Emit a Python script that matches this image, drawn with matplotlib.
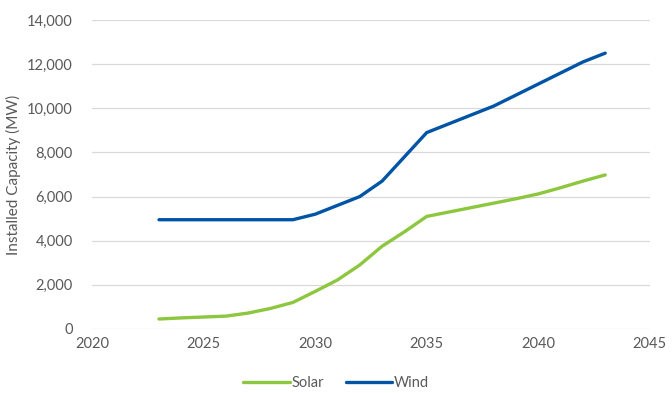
import matplotlib.pyplot as plt
from matplotlib.ticker import FuncFormatter

# installed capacity by year (MW)
years = list(range(2023, 2044))
solar = [450, 500, 540, 580, 720, 930, 1200, 1700, 2220, 2900, 3750,
         4400, 5100, 5300, 5500, 5700, 5900, 6120, 6400, 6700, 6980]
wind = [4950, 4950, 4950, 4950, 4950, 4950, 4950, 5200, 5600, 6000, 6700,
        7800, 8900, 9300, 9700, 10100, 10600, 11100, 11600, 12100, 12500]

plt.rcParams['font.family'] = ['Lato', 'DejaVu Sans']
txt = '#595959'

fig = plt.figure(figsize=(6.72, 3.93), dpi=100)
ax = fig.add_axes([0.137, 0.163, 0.83, 0.786])

ax.plot(years, solar, color='#8DC63F', lw=2.4, label='Solar', solid_capstyle='round')
ax.plot(years, wind, color='#0054A6', lw=2.4, label='Wind', solid_capstyle='round')

ax.set_xlim(2020, 2045)
ax.set_ylim(0, 14000)
ax.set_xticks(range(2020, 2046, 5))
ax.set_yticks(range(0, 14001, 2000))
ax.yaxis.set_major_formatter(FuncFormatter(lambda v, p: f'{int(v):,}'))
ax.grid(axis='y', color='#D9D9D9', lw=0.9)
ax.set_axisbelow(True)
for s in ax.spines.values():
    s.set_visible(False)
ax.tick_params(length=0, labelsize=10.5, labelcolor=txt)
ax.tick_params(axis='y', pad=14)
ax.tick_params(axis='x', pad=6)
ax.set_ylabel('Installed Capacity (MW)', fontsize=11, color=txt)

fig.legend(loc='lower center', bbox_to_anchor=(0.5, -0.025), ncol=2, frameon=False,
           fontsize=10.5, labelcolor=txt, handlelength=3.2, handletextpad=0.1,
           columnspacing=1.5)

fig.savefig('out.png', dpi=100)
